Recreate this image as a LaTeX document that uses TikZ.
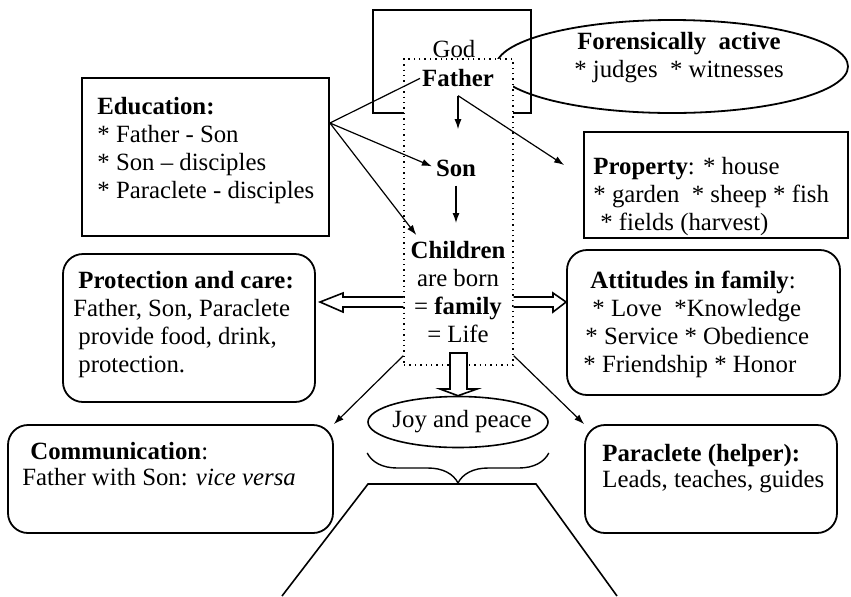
\documentclass[tikz,border=0pt]{standalone}
\usepackage{fontspec}
\setmainfont{Liberation Serif}
\usetikzlibrary{arrows.meta,shapes.geometric,decorations.pathreplacing}

\begin{document}
\begin{tikzpicture}[x=0.5pt,y=-0.5pt,
    every node/.style={font=\fontsize{12.4}{14}\selectfont},
    txt/.style={inner sep=0pt,align=left},
    sqbox/.style={draw,line width=0.9pt,inner sep=0pt},
    rbox/.style={draw,line width=0.9pt,rounded corners=10pt,inner sep=0pt},
    arr/.style={line width=0.6pt,-{Latex[length=5pt,width=3.5pt]}},
    hollow/.style={draw,line width=0.8pt,fill=white}]
    \useasboundingbox (0,0) rectangle (851,596);

    % God, forensic ellipse and the family frame
    \node[sqbox,minimum width=79pt,minimum height=51.5pt] (god) at (452,61.5) {};
    \node[txt] (godtxt) at (454,49) {God};
    \node[ellipse,draw,line width=0.9pt,minimum width=176pt,minimum height=46.5pt] (foren) at (672,66.5) {};
    \node[txt,align=center] (forentxt) at (679,58) {\textbf{Forensically\ \ active}\\{}* judges\ \ * witnesses};
    \node[draw,dotted,line width=0.7pt,fill=white,minimum width=54.5pt,minimum height=153pt,inner sep=0pt] (frame) at (458.5,212) {};

    % Inside the frame
    \node[txt,anchor=base] (father) at (458,86) {\textbf{Father}};
    \node[txt,anchor=base] (son) at (456,176) {\textbf{Son}};
    \node[txt,align=center,anchor=north] (children) at (458,241) {\textbf{Children}\\are born\\= \textbf{family}\\= Life};

    % Boxes round the frame
    \node[sqbox,minimum width=123.5pt,minimum height=79pt] (edu) at (205.5,157) {};
    \node[txt,anchor=north west] (edutxt) at (97,97) {\textbf{Education:}\\{}* Father - Son\\{}* Son -- disciples\\{}* Paraclete - disciples};
    \node[sqbox,minimum width=132pt,minimum height=53pt] (prop) at (716,185) {};
    \node[txt,anchor=north west] (proptxt) at (593,157) {\textbf{Property}: * house\\{}* garden\ \ * sheep * fish\\\hspace*{3.5pt}* fields (harvest)};
    \node[rbox,minimum width=136.5pt,minimum height=72.5pt] (att) at (703.5,322.5) {};
    \node[txt,anchor=north west] (atttxt) at (583,271) {\hspace*{3.5pt}\textbf{Attitudes in family}:\\\hspace*{4.5pt}* Love\ \ *Knowledge\\\hspace*{1pt}* Service * Obedience\\{}* Friendship * Honor};
    \node[rbox,minimum width=126pt,minimum height=74pt] (prot) at (189,328) {};
    \node[txt,anchor=north west] (prottxt) at (73,271) {\hspace*{2.5pt}\textbf{Protection and care:}\\Father, Son, Paraclete\\\hspace*{2.5pt}provide food, drink,\\\hspace*{2.5pt}protection.};
    \node[rbox,minimum width=162.5pt,minimum height=54pt] (comm) at (170.5,479) {};
    \node[txt,anchor=north west] (commtxt) at (22,442) {\hspace*{4pt}\textbf{Communication}:\\[-1pt]Father with Son: \textit{vice versa}};
    \node[rbox,minimum width=126pt,minimum height=54pt] (para) at (711,479) {};
    \node[txt,anchor=north west] (paratxt) at (602,444) {\textbf{Paraclete (helper):}\\[-1pt]Leads, teaches, guides};
    \node[ellipse,draw,line width=0.8pt,minimum width=90pt,minimum height=25.5pt,inner sep=0pt] (joy) at (458,422) {};
    \node[txt] (joytxt) at (462,422) {Joy and peace};

    % Connectors
    \coordinate (eduout) at ([yshift=17pt]edu.east);
    \draw[line width=0.6pt,shorten >=1pt] (eduout) -- (father.west);
    \draw[arr,shorten >=2pt] (eduout) -- (son.west);
    \draw[arr] (eduout) -- ([xshift=3pt,yshift=3pt]children.north west);
    \draw[arr,shorten >=15pt] ([yshift=-4.5pt]father.south) -- (father.south |- son.north);
    \draw[arr] ([yshift=-4.5pt]father.south) -- ([shift={(-19,-20)}]prop.west);
    \draw[arr,shorten <=4.5pt,shorten >=9pt] (son.south) -- (son.south |- children.north);
    \draw[arr] ([yshift=5pt]frame.south west) -- (comm.north east);
    \draw[arr] ([yshift=5pt]frame.south east) -- (para.north west);

    % Hollow arrows
    \draw[hollow] (frame.west |- 0,297) -- (343,297) -- (343,293) -- (320,302) -- (343,312) -- (343,307) -- (frame.west |- 0,307);
    \draw[hollow] (frame.east |- 0,297) -- (553,297) -- (553,293) -- (att.west |- 0,302) -- (553,312) -- (553,307) -- (frame.east |- 0,307);
    \draw[hollow] (450,353) -- (450,389) -- (440,389) -- (joy.north) -- (477,389) -- (467,389) -- (467,353) -- cycle;

    % Brace and base
    \draw[line width=0.7pt,decorate,decoration={brace,mirror,amplitude=15pt}] (joy.west |- 0,453) -- (joy.east |- 0,453);
    \draw[line width=0.8pt] (282,596) -- (368,484) -- (536,484) -- (617,596);
\end{tikzpicture}
\end{document}
